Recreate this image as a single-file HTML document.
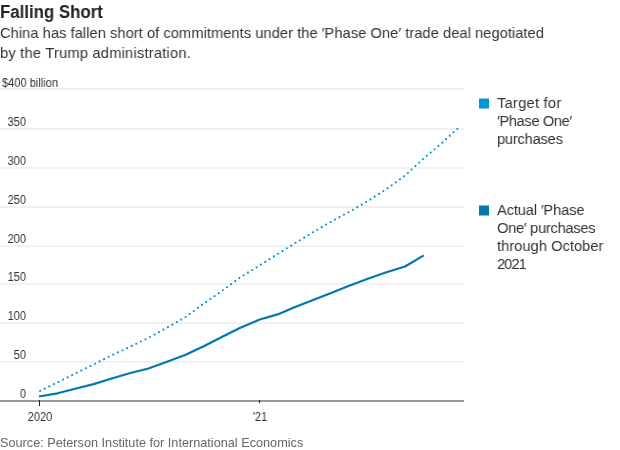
<!DOCTYPE html>
<html><head><meta charset="utf-8">
<style>
html,body{margin:0;padding:0;background:#fff;}
body{width:620px;height:450px;position:relative;overflow:hidden;font-family:"Liberation Sans",sans-serif;color:#333;}
.t{position:absolute;white-space:nowrap;will-change:transform;}
#title{left:0;top:2px;font-size:18px;line-height:20px;font-weight:bold;color:#222;transform:scaleX(0.935);transform-origin:0 0;}
.sub{left:0;font-size:15px;line-height:20px;color:#333;transform:scaleX(0.98);transform-origin:0 0;}
.yl{font-size:12.3px;line-height:12px;color:#333;text-align:right;width:40px;transform:scaleX(0.9);transform-origin:100% 0;}
.xl{font-size:12.3px;line-height:12px;color:#333;text-align:center;width:40px;transform:scaleX(0.9);transform-origin:50% 0;}
.leg{left:497px;font-size:15.5px;line-height:18px;color:#333;transform:scaleX(0.95);transform-origin:0 0;}
.sq{position:absolute;left:479px;width:10px;height:10px;}
#src{left:0;top:436px;font-size:12.7px;line-height:14px;color:#666;}
svg{position:absolute;left:0;top:0;}
</style></head><body>
<div class="t" id="title">Falling Short</div>
<div class="t sub" style="top:23.3px;letter-spacing:0.03px">China has fallen short of commitments under the ′Phase One′ trade deal negotiated</div>
<div class="t sub" style="top:43.3px;letter-spacing:0.2px">by the Trump administration.</div>

<svg width="620" height="450" viewBox="0 0 620 450">
  <g fill="#f1f1f1">
    <rect x="0" y="88" width="464" height="2"/>
    <rect x="0" y="128" width="464" height="2"/>
    <rect x="0" y="167" width="464" height="2"/>
    <rect x="0" y="206" width="464" height="2"/>
    <rect x="0" y="245" width="464" height="2"/>
    <rect x="0" y="283" width="464" height="2"/>
    <rect x="0" y="322" width="464" height="2"/>
    <rect x="0" y="361" width="464" height="2"/>
  </g>
  <rect x="0" y="400" width="464" height="2" fill="#999"/>
  <rect x="39" y="400" width="1" height="6" fill="#222"/>
  <rect x="259" y="400" width="1" height="3" fill="#222"/>
  <polyline fill="none" stroke="#0098db" stroke-width="2.2" stroke-dasharray="0 5.1" stroke-dashoffset="-1.3" stroke-linecap="round" stroke-linejoin="round"
    points="39,391.5 57.63,382.3 75.07,373.6 93.7,364.4 111.73,355.3 130.37,346.6 148.4,337.9 167.03,327.7 185.67,317.0 203.7,303.7 222.33,290.7 240.37,277.3 259,265.8 277.63,254.1 294.46,243.6 313.1,232.2 331.13,221.7 349.77,211.6 367.8,201.1 386.43,189.1 405.07,175.6 423.1,158.9 441.73,143.2 457.5,128.6"/>
  <polyline fill="none" stroke="#0078ae" stroke-width="2.2" stroke-linejoin="round"
    points="39,396.5 57.63,393.3 75.07,388.8 93.7,384.1 111.73,378.5 130.37,373.0 148.4,368.5 167.03,361.8 185.67,354.7 203.7,346.2 222.33,336.7 240.37,327.8 259,319.8 277.63,314.4 294.46,307.2 313.1,299.9 331.13,293.0 349.77,285.5 367.8,278.8 386.43,272.2 405.07,266.5 423.8,255.4"/>
  <rect x="479" y="98.5" width="10" height="10" fill="#0098db"/>
  <rect x="479" y="205.5" width="10" height="10" fill="#0078ae"/>
</svg>

<div class="t yl" style="top:77px;text-align:left;left:2px;width:auto;transform-origin:0 0">$400 billion</div>
<div class="t yl" style="left:-14px;top:116px">350</div>
<div class="t yl" style="left:-14px;top:155px">300</div>
<div class="t yl" style="left:-14px;top:194px">250</div>
<div class="t yl" style="left:-14px;top:233px">200</div>
<div class="t yl" style="left:-14px;top:271px">150</div>
<div class="t yl" style="left:-14px;top:310px">100</div>
<div class="t yl" style="left:-14px;top:349px">50</div>
<div class="t yl" style="left:-14px;top:388px">0</div>

<div class="t xl" style="left:20px;top:411px">2020</div>
<div class="t xl" style="left:240px;top:411px">′21</div>

<div class="t leg" id="lg0" style="top:93.73px;letter-spacing:0.23px">Target for</div>
<div class="t leg" id="lg1" style="top:111.78px;letter-spacing:-0.42px">′Phase One′</div>
<div class="t leg" id="lg2" style="top:129.83px;letter-spacing:-0.26px">purchases</div>
<div class="t leg" id="lg3" style="top:200.63px;letter-spacing:-0.18px">Actual ′Phase</div>
<div class="t leg" id="lg4" style="top:218.73px;letter-spacing:-0.33px">One′ purchases</div>
<div class="t leg" id="lg5" style="top:237.33px;letter-spacing:0px">through October</div>
<div class="t leg" id="lg6" style="top:255.43px;letter-spacing:-1.0px">2021</div>

<div class="t" id="src">Source: Peterson Institute for International Economics</div>
</body></html>
